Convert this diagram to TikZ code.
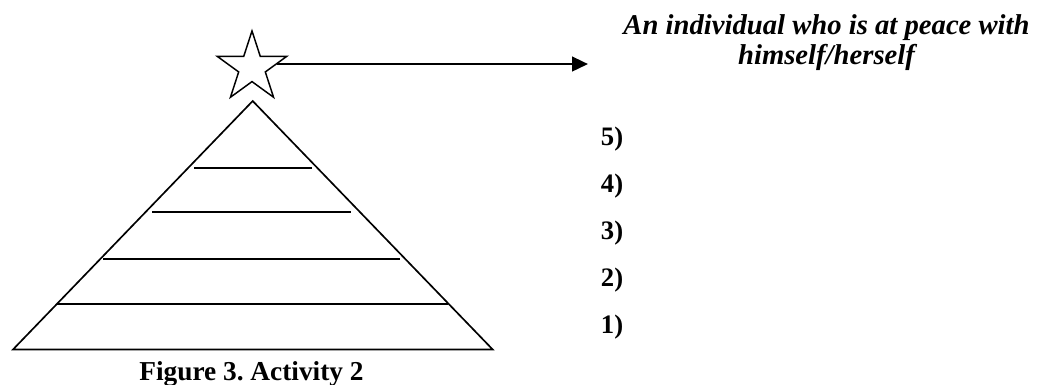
\documentclass[tikz,border=0pt]{standalone}
\usepackage{fontspec}
\setmainfont{Liberation Serif}
\usepackage{tikz}
\usetikzlibrary{shapes.geometric, arrows.meta, positioning}
\tikzset{
  starnode/.style={star, star points=5, star point ratio=2.618, draw=black,
    fill=white, minimum size=55pt, inner sep=0pt, line width=1.1pt},
  arrow/.style={-{Triangle[length=12pt, width=11pt]}, line width=1.8pt},
  line/.style={line width=1.25pt},
  goaltext/.style={align=center, inner sep=0pt,
    font=\fontsize{21.5}{22.5}\selectfont\bfseries\itshape},
  numlabel/.style={anchor=west, inner sep=0pt,
    font=\fontsize{20}{22}\selectfont\bfseries},
  captext/.style={anchor=base, inner sep=0pt,
    font=\fontsize{20.5}{22}\selectfont\bfseries}
}

\begin{document}
\begin{tikzpicture}[x=0.75pt, y=-0.75pt]
  \useasboundingbox (0,0) rectangle (1040,385);

  % Pyramid
  \draw[line, line join=miter] (13,349.5) -- (252.7,101) -- (492.7,349.5) -- cycle;
  \foreach \y/\xa/\xb in {167.7/194/312, 211.7/152/351, 259.3/103/400, 303.7/57/448}
    \draw[line] (\xa,\y) -- (\xb,\y);

  % Star and arrow
  \node[starnode] (peakstar) at (252,67.6) {};
  \coordinate (goaltip) at (588,64);
  \draw[arrow] (peakstar.8) -- (peakstar.8 -| goaltip);

  % Goal text (base = last line)
  \node[goaltext, anchor=base] (goal) at (826.5,65) {An individual who is at peace with\\himself/herself};

  % Levels
  \foreach \i/\y in {1/327, 2/280, 3/233, 4/186, 5/139}
    \node[numlabel] (lvl\i) at (600.7,\y) {\i)};

  % Caption
  \node[captext] (caption) at (251.5,380) {Figure 3.\ Activity 2};
\end{tikzpicture}
\end{document}
